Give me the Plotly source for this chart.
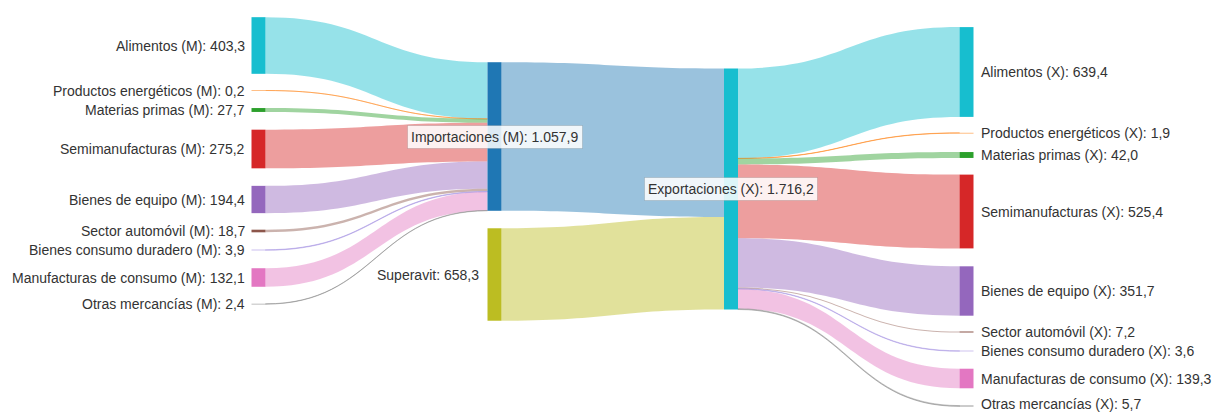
import plotly.graph_objects as go

# ---------------- data ----------------
categories = ["Alimentos", "Productos energéticos", "Materias primas", "Semimanufacturas",
              "Bienes de equipo", "Sector automóvil", "Bienes consumo duradero",
              "Manufacturas de consumo", "Otras mercancías"]
imports_m = [403.3, 0.2, 27.7, 275.2, 194.4, 18.7, 3.9, 132.1, 2.4]
exports_x = [639.4, 1.9, 42.0, 525.4, 351.7, 7.2, 3.6, 139.3, 5.7]
total_imports = 1057.9
superavit = 658.3
total_exports = 1716.2

# ---------------- styling / layout ----------------
cat_colors = ["#17becf", "#ff7f0e", "#2ca02c", "#d62728", "#9467bd",
              "#8c564b", "#a08be0", "#e377c2", "#7f7f7f"]
col_imp, col_sup, col_exp = "#1f77b4", "#bcbd22", "#17becf"

W, H = 1213, 412
THICK = 14
col_x = [258.5, 494.5, 731.0, 966.5]  # node centres (px)
left_y = [45.5, 90.5, 110, 149, 199.5, 231, 250, 277.5, 304]
right_y = [72, 133, 155, 211.5, 291, 332, 351, 378.5, 406]
right_label_y = [72, 133, 155, 211.5, 291, 332, 351, 378.5, 403.5]
imp_y, sup_y, exp_y = 136.5, 274.5, 189
FONT = "Liberation Sans, Arial, Helvetica, sans-serif"
TXT = "#333333"


def fmt(v):
    s = f"{v:,.1f}"
    return s.replace(",", "#").replace(".", ",").replace("#", ".")


def rgba(h, a):
    h = h.lstrip("#")
    r, g, b = int(h[0:2], 16), int(h[2:4], 16), int(h[4:6], 16)
    return f"rgba({r},{g},{b},{a})"


n = len(categories)
labels = ([f"{c} (M): {fmt(v)}" for c, v in zip(categories, imports_m)]
          + [f"Importaciones (M): {fmt(total_imports)}", f"Superavit: {fmt(superavit)}",
             f"Exportaciones (X): {fmt(total_exports)}"]
          + [f"{c} (X): {fmt(v)}" for c, v in zip(categories, exports_x)])
node_colors = cat_colors + [col_imp, col_sup, col_exp] + cat_colors
IMP, SUP, EXP = n, n + 1, n + 2

node_x_px = [col_x[0]] * n + [col_x[1], col_x[1], col_x[2]] + [col_x[3]] * n
node_y_px = left_y + [imp_y, sup_y, exp_y] + right_y

src, tgt, val, lcol = [], [], [], []
for i in range(n):
    src.append(i); tgt.append(IMP); val.append(imports_m[i]); lcol.append(rgba(cat_colors[i], 0.45))
src.append(IMP); tgt.append(EXP); val.append(total_imports); lcol.append(rgba(col_imp, 0.45))
src.append(SUP); tgt.append(EXP); val.append(superavit); lcol.append(rgba(col_sup, 0.45))
for i in range(n):
    src.append(EXP); tgt.append(EXP + 1 + i); val.append(exports_x[i]); lcol.append(rgba(cat_colors[i], 0.45))

fig = go.Figure(go.Sankey(
    arrangement="fixed",
    domain=dict(x=[0, 1], y=[0, 1]),
    node=dict(
        pad=19, thickness=THICK,
        label=[""] * len(labels),
        customdata=labels,
        hovertemplate="%{customdata}<extra></extra>",
        color=node_colors,
        line=dict(width=0),
        x=[x / W for x in node_x_px],
        y=[y / H for y in node_y_px],
    ),
    link=dict(source=src, target=tgt, value=val, color=lcol,
              line=dict(width=0),
              hoverinfo="skip"),
))

ann = []
for i in range(n):
    ann.append(dict(text=labels[i], x=(col_x[0] - THICK / 2 - 6) / W, y=1 - left_y[i] / H,
                    xanchor="right", yanchor="middle"))
    ann.append(dict(text=labels[EXP + 1 + i], x=(col_x[3] + THICK / 2 + 6) / W,
                    y=1 - right_label_y[i] / H, xanchor="left", yanchor="middle"))
ann.append(dict(text=labels[SUP], x=(col_x[1] - THICK / 2 - 8) / W, y=1 - sup_y / H,
                xanchor="right", yanchor="middle"))
for idx, cx, cy in [(IMP, col_x[1], imp_y), (EXP, col_x[2], exp_y)]:
    ann.append(dict(text=labels[idx], x=cx / W, y=1 - cy / H, xanchor="center", yanchor="middle",
                    bgcolor="rgba(255,255,255,0.85)", bordercolor="rgba(0,0,0,0.12)",
                    borderwidth=1, borderpad=3))
for a in ann:
    a.update(xref="paper", yref="paper", showarrow=False,
             font=dict(family=FONT, size=14, color=TXT))
    a.setdefault("borderpad", 0)

fig.update_layout(
    width=W, height=H,
    margin=dict(l=0, r=0, t=0, b=0),
    paper_bgcolor="white", plot_bgcolor="white",
    annotations=ann,
    font=dict(family=FONT, size=14, color=TXT),
)

fig.write_html("out.html", config={"displayModeBar": False},
               post_script="document.body.style.margin='0';document.body.style.overflow='hidden';")
